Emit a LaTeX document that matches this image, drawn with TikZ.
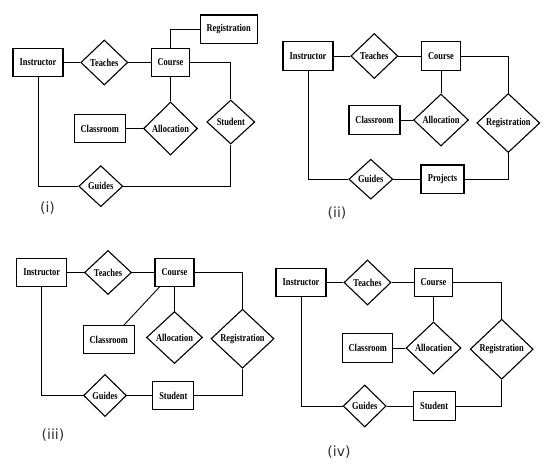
\documentclass[tikz,border=0pt]{standalone}
\usepackage{fontspec}
\setmainfont{Liberation Serif}[FakeStretch=0.8]
\newfontfamily\capfont{DejaVu Sans}
\usetikzlibrary{shapes.geometric}

\tikzset{
    entity/.style={draw, line width=1.1pt, minimum width=50pt, minimum height=28.5pt, inner sep=1pt, font=\bfseries\fontsize{10.5}{12}\selectfont},
    relation/.style={draw, diamond, line width=1.1pt, inner sep=0pt, minimum width=47pt, minimum height=45pt, font=\bfseries\fontsize{10.5}{12}\selectfont},
    link/.style={line width=0.9pt},
    caption/.style={font=\capfont\fontsize{14}{16}\selectfont, text=black!80}
}

\begin{document}
\begin{tikzpicture}[x=1pt, y=-1pt]
        \path[fill=white, use as bounding box] (0,0) rectangle (544,466);

        % Diagram (i)
        \node[entity] (inst1) at (38,62.5) {Instructor};
        \node[relation] (teach1) at (104.3,62.5) {Teaches};
        \node[entity, minimum width=38pt, minimum height=27.5pt] (course1) at (170.5,62.5) {Course};
        \node[entity, minimum width=57pt] (reg1) at (228.7,29.2) {Registration};
        \node[relation, minimum width=48pt, minimum height=44pt] (stud1) at (230.8,122) {Student};
        \node[relation, minimum width=54pt, minimum height=53pt] (alloc1) at (170.5,128.5) {Allocation};
        \node[entity, minimum width=51pt] (class1) at (99.7,128.5) {Classroom};
        \node[relation, minimum width=44pt, minimum height=41pt] (guide1) at (100.8,186.2) {Guides};
        \node[caption] (cap1) at (47.5,208) {(i)};

        \draw[link] (inst1) -- (teach1);
        \draw[link] (teach1) -- (course1);
        \draw[link] (course1.north) |- (reg1.west);
        \draw[link] (course1.east) -| (stud1.north);
        \draw[link] (course1.south) -- (alloc1.north);
        \draw[link] (class1) -- (alloc1);
        \draw[link] (inst1.south) |- (guide1.west);
        \draw[link] (guide1.east) -| (stud1.south);

        % Diagram (ii)
        \node[entity] (inst2) at (308,56) {Instructor};
        \node[relation] (teach2) at (374.3,56) {Teaches};
        \node[entity, minimum width=39pt] (course2) at (441,56) {Course};
        \node[relation, minimum width=63pt, minimum height=59pt] (reg2) at (508.3,123) {Registration};
        \node[relation, minimum width=55pt, minimum height=52pt] (alloc2) at (441,120) {Allocation};
        \node[entity, minimum width=51pt] (class2) at (374.5,120) {Classroom};
        \node[relation, minimum width=44pt, minimum height=40pt] (guide2) at (370.8,179.2) {Guides};
        \node[entity, minimum width=43pt] (proj2) at (442.5,179.2) {Projects};
        \node[caption] (cap2) at (337,213) {(ii)};

        \draw[link] (inst2) -- (teach2);
        \draw[link] (teach2) -- (course2);
        \draw[link] (course2.east) -| (reg2.north);
        \draw[link] (course2.south) -- (alloc2.north);
        \draw[link] (class2) -- (alloc2);
        \draw[link] (inst2.south) |- (guide2.west);
        \draw[link] (guide2) -- (proj2);
        \draw[link] (proj2.east) -| (reg2.south);

        % Diagram (iii)
        \node[entity] (inst3) at (41.7,272.5) {Instructor};
        \node[relation, minimum height=44pt] (teach3) at (108,272.5) {Teaches};
        \node[entity, minimum width=39pt, minimum height=27.5pt] (course3) at (174.5,272.5) {Course};
        \node[relation, minimum width=63pt, minimum height=59pt] (reg3) at (242.5,338.7) {Registration};
        \node[entity, minimum width=51pt, minimum height=28pt] (class3) at (108.7,339.8) {Classroom};
        \node[relation, minimum width=56pt, minimum height=52pt] (alloc3) at (174.5,337.5) {Allocation};
        \node[relation, minimum width=43pt, minimum height=42pt] (guide3) at (105,395.5) {Guides};
        \node[entity, minimum width=41pt, minimum height=27.5pt] (stud3) at (173.3,395.5) {Student};
        \node[caption] (cap3) at (53,435) {(iii)};

        \draw[link] (inst3) -- (teach3);
        \draw[link] (teach3) -- (course3);
        \draw[link] (course3.east) -| (reg3.north);
        \draw[link] (course3.224) -- (class3.44);
        \draw[link] (course3.south) -- (alloc3.north);
        \draw[link] (inst3.south) |- (guide3.west);
        \draw[link] (guide3) -- (stud3);
        \draw[link] (stud3.east) -| (reg3.south);

        % Diagram (iv)
        \node[entity] (inst4) at (301,282.5) {Instructor};
        \node[relation] (teach4) at (367.5,282.5) {Teaches};
        \node[entity, minimum width=38pt] (course4) at (433.5,282.5) {Course};
        \node[relation, minimum width=63pt, minimum height=60pt] (reg4) at (501.7,349.2) {Registration};
        \node[relation, minimum width=55pt, minimum height=52pt] (alloc4) at (433.5,348) {Allocation};
        \node[entity] (class4) at (367.7,348) {Classroom};
        \node[relation, minimum width=43pt, minimum height=42pt] (guide4) at (364.7,406) {Guides};
        \node[entity, minimum width=42pt] (stud4) at (434.2,406) {Student};
        \node[caption] (cap4) at (339,451.7) {(iv)};

        \draw[link] (inst4) -- (teach4);
        \draw[link] (teach4) -- (course4);
        \draw[link] (course4.east) -| (reg4.north);
        \draw[link] (course4.south) -- (alloc4.north);
        \draw[link] (class4) -- (alloc4);
        \draw[link] (inst4.south) |- (guide4.west);
        \draw[link] (guide4) -- (stud4);
        \draw[link] (stud4.east) -| (reg4.south);
\end{tikzpicture}
\end{document}
